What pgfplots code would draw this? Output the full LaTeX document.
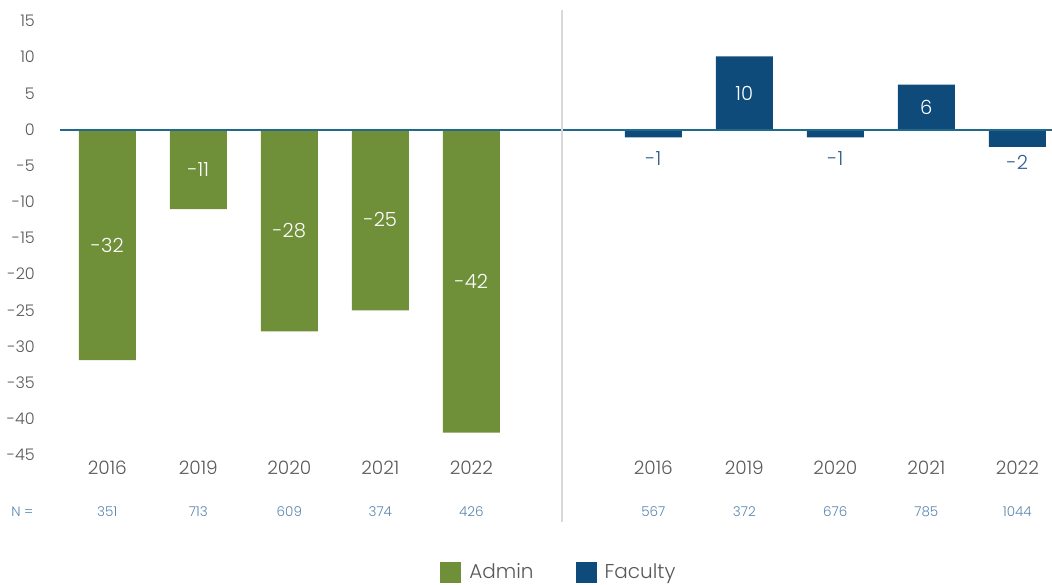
\documentclass[border=0pt]{standalone}
\usepackage{fontspec}
\setmainfont{Poppins}[UprightFont={* Light}]
\usepackage{pgfplots}
\pgfplotsset{compat=1.18}
\definecolor{adm}{HTML}{708F39}
\definecolor{fac}{HTML}{0E4B7B}
\definecolor{zeroline}{HTML}{1F6A8D}
\definecolor{tickgray}{HTML}{595959}
\definecolor{nblue}{HTML}{5A86AE}
\definecolor{lblblue}{HTML}{2F5F8F}
\begin{document}
\begin{tikzpicture}
\useasboundingbox (-60pt,-129pt) rectangle (992pt,455pt);
\begin{axis}[
  at={(0pt,0pt)}, anchor=south west,
  scale only axis, width=991.9pt, height=434pt,
  xmin=-0.52, xmax=10.38, ymin=-45, ymax=15,
  clip=false,
  axis line style={draw=none},
  major tick length=0pt,
  ytick={-45,-40,...,15},
  xtick={0,1,2,3,4,6,7,8,9,10},
  xticklabels={2016,2019,2020,2021,2022,2016,2019,2020,2021,2022},
  /pgf/number format/assume math mode=true,
  yticklabel style={font=\fontsize{16}{19}\selectfont, text=tickgray, anchor=east, inner sep=0pt, xshift=-25pt},
  xticklabel style={font=\fontsize{18.5}{22}\selectfont, text=tickgray, anchor=north, inner sep=0pt, yshift=-6pt},
  legend style={at={(0.503,-0.27)}, anchor=center, draw=none, legend columns=2,
    font=\fontsize{20}{24}\selectfont, text=tickgray,
    /tikz/every even column/.append style={column sep=40pt}},
]
\addplot[ybar, bar width=57pt, bar shift=0pt, fill=adm, draw=none,
  legend image code/.code={\fill[fill=adm] (0pt,-10.5pt) rectangle (21pt,10.5pt); \path (27pt,0pt);}]
  coordinates {(0,-31.9) (1,-11.0) (2,-27.9) (3,-25.0) (4,-41.9)};
\addlegendentry{Admin}
\addplot[ybar, bar width=57pt, bar shift=0pt, fill=fac, draw=none,
  legend image code/.code={\fill[fill=fac] (0pt,-10.5pt) rectangle (21pt,10.5pt); \path (27pt,0pt);}]
  coordinates {(6,-1.1) (7,10.1) (8,-1.1) (9,6.2) (10,-2.4)};
\addlegendentry{Faculty}
\draw[zeroline, line width=2pt] (axis cs:-0.52,0) -- (axis cs:10.38,0);
\draw[black!15, line width=2pt] (axis cs:5,16.5) -- (axis cs:5,-54.3);
% bar value labels
\begin{scope}[every node/.style={font=\fontsize{19.5}{23}\selectfont}]
\node[white] at (axis cs:0,-16) {-32};
\node[white] at (axis cs:1,-5.5) {-11};
\node[white] at (axis cs:2,-14) {-28};
\node[white] at (axis cs:3,-12.5) {-25};
\node[white] at (axis cs:4,-21) {-42};
\node[lblblue] at (axis cs:6,-4) {-1};
\node[white] at (axis cs:7,5) {10};
\node[lblblue] at (axis cs:8,-4) {-1};
\node[white] at (axis cs:9,3) {6};
\node[lblblue] at (axis cs:10,-4.6) {-2};
\end{scope}
% N row
\begin{scope}[every node/.style={font=\fontsize{13.5}{16}\selectfont, text=nblue}]
\node at (axis cs:-0.934,-52.88) {N =};
\node at (axis cs:0,-52.88) {351};
\node at (axis cs:1,-52.88) {713};
\node at (axis cs:2,-52.88) {609};
\node at (axis cs:3,-52.88) {374};
\node at (axis cs:4,-52.88) {426};
\node at (axis cs:6,-52.88) {567};
\node at (axis cs:7,-52.88) {372};
\node at (axis cs:8,-52.88) {676};
\node at (axis cs:9,-52.88) {785};
\node at (axis cs:10,-52.88) {1044};
\end{scope}
\end{axis}
\end{tikzpicture}
\end{document}
